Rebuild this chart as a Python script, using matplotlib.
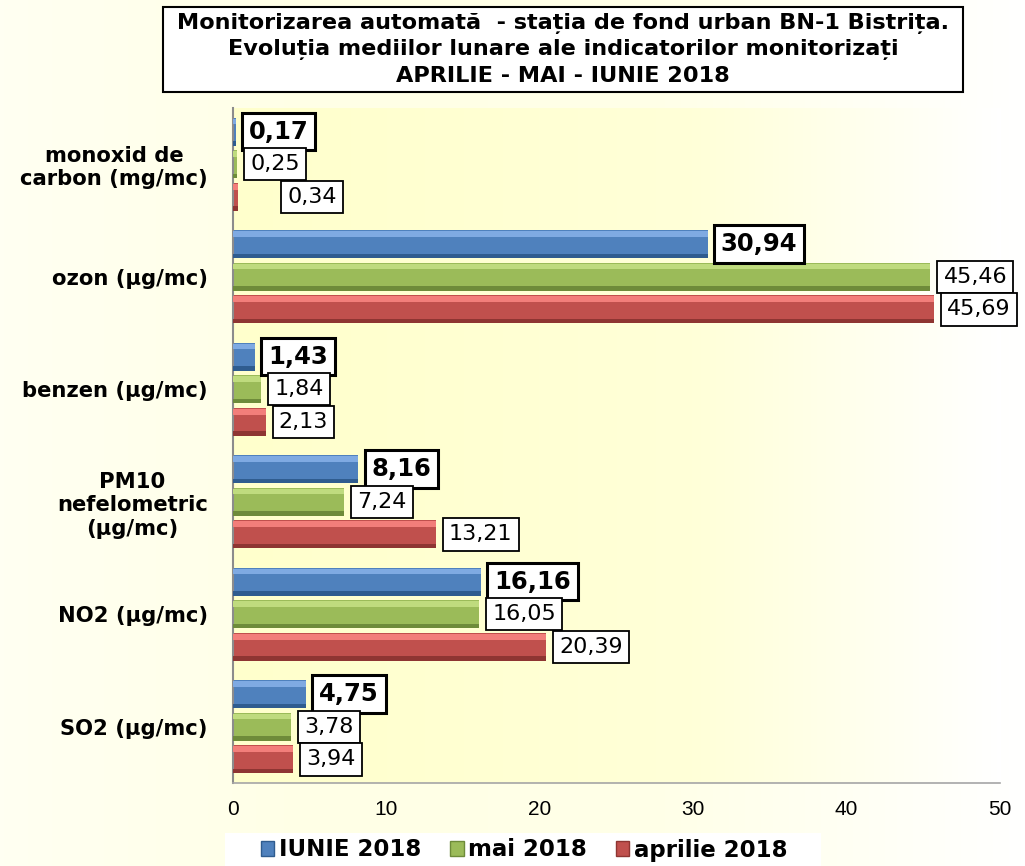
import numpy as np
import matplotlib.pyplot as plt
from matplotlib.patches import Patch, Rectangle
from matplotlib.colors import LinearSegmentedColormap

# Data, categories listed top to bottom
categories = ['monoxid de\ncarbon (mg/mc)', 'ozon (µg/mc)', 'benzen (µg/mc)',
              'PM10\nnefelometric\n(µg/mc)', 'NO2 (µg/mc)', 'SO2 (µg/mc)']
iunie = [0.17, 30.94, 1.43, 8.16, 16.16, 4.75]
mai = [0.25, 45.46, 1.84, 7.24, 16.05, 3.78]
aprilie = [0.34, 45.69, 2.13, 13.21, 20.39, 3.94]
series_names = ['IUNIE 2018', 'mai 2018', 'aprilie 2018']
xticks = [0, 10, 20, 30, 40, 50]
title_lines = ['Monitorizarea automată  - stația de fond urban BN-1 Bistrița.',
               'Evoluția mediilor lunare ale indicatorilor monitorizați',
               'APRILIE - MAI - IUNIE 2018']

# colours: (main, light top, dark bottom)
COLORS = {
    'IUNIE 2018': ('#4F81BD', '#7FAAE2', '#2F5C8F'),
    'mai 2018': ('#9BBB59', '#BFDB7E', '#6E8B3A'),
    'aprilie 2018': ('#C0504D', '#F27E7A', '#8E3532'),
}

NARROW = ['Liberation Sans Narrow', 'Liberation Sans', 'DejaVu Sans']

fig = plt.figure(figsize=(10.25, 8.66), dpi=100)

# background gradient for the whole chart area
bg = fig.add_axes([0, 0, 1, 1], zorder=-10)
bg_cmap = LinearSegmentedColormap.from_list(
    'bg', [(0.0, '#FFFFF2'), (0.3, '#FFFFE6'), (0.65, '#FFFFE8'), (1.0, '#FFFFFF')])
bg.imshow(np.linspace(0, 1, 256).reshape(1, -1), cmap=bg_cmap, aspect='auto',
          extent=[0, 1, 0, 1])
bg.axis('off')

ax = fig.add_axes([0.2273, 0.0958, 0.7483, 0.7795])
ax.set_xlim(0, 50)
n = len(categories)
ax.set_ylim(-0.5, n - 0.5)

# plot-area gradient
pa_cmap = LinearSegmentedColormap.from_list(
    'pa', [(0.0, '#FFFFCC'), (0.6, '#FFFFD8'), (1.0, '#FFFFFF')])
ax.imshow(np.linspace(0, 1, 256).reshape(1, -1), cmap=pa_cmap, aspect='auto',
          extent=[0, 50, -0.5, n - 0.5], zorder=0)

ypos = np.arange(n)[::-1]
height = 0.25
offsets = {'IUNIE 2018': 0.29, 'mai 2018': 0.0, 'aprilie 2018': -0.29}
data = {'IUNIE 2018': iunie, 'mai 2018': mai, 'aprilie 2018': aprilie}

# extra nudge for a label that sits further right in the reference
nudge = {(0, 'aprilie 2018'): 26}

for name in series_names:
    main, light, dark = COLORS[name]
    yy = ypos + offsets[name]
    vals = np.array(data[name])
    ax.barh(yy, vals, height=height, color=main, zorder=2)
    # simple bevel: highlight on top, shadow at bottom
    ax.barh(yy + height * 0.36, vals, height=height * 0.2, color=light, zorder=3)
    ax.barh(yy - height * 0.42, vals, height=height * 0.16, color=dark, zorder=3)
    bold = name == 'IUNIE 2018'
    for i, (v, y) in enumerate(zip(vals, yy)):
        label = f'{v:.2f}'.replace('.', ',')
        ax.annotate(label, (v, y), xytext=(9.5 + nudge.get((i, name), 0), 0),
                    textcoords='offset points', ha='left', va='center',
                    fontsize=17.5 if bold else 16,
                    fontweight='bold' if bold else 'normal',
                    family='DejaVu Sans', zorder=5,
                    bbox=dict(boxstyle='square,pad=0.28', fc='white', ec='black',
                              lw=2.2 if bold else 1.3))

ax.set_yticks(ypos)
ax.set_yticklabels(categories, fontsize=15.2, fontweight='bold',
                   family='DejaVu Sans', multialignment='center')
ax.tick_params(axis='y', length=0, pad=18)

ax.set_xticks(xticks)
ax.set_xticklabels([str(t) for t in xticks], fontsize=15, family=NARROW)
ax.tick_params(axis='x', length=0, pad=12)

for s in ['top', 'right']:
    ax.spines[s].set_visible(False)
ax.spines['left'].set_color('#8C8C8C')
ax.spines['left'].set_linewidth(1.5)
ax.spines['bottom'].set_color('#A6A6A6')
ax.spines['bottom'].set_linewidth(1.2)
ax.patch.set_alpha(0)

# title box
fig.patches.append(Rectangle((163 / 1025, 1 - 92 / 866), 800 / 1025, 85 / 866,
                             transform=fig.transFigure, fc='white', ec='black',
                             lw=1.5, zorder=1))
for k, line in enumerate(title_lines):
    fig.text(563 / 1025, 1 - (23.5 + 26.5 * k) / 866, line, ha='center', va='center',
             fontsize=16.1, fontweight='bold', family='DejaVu Sans', zorder=2)

# legend on a white strip
fig.patches.append(Rectangle((225 / 1025, 0), 596 / 1025, 33 / 866,
                             transform=fig.transFigure, fc='white', ec='none', zorder=1))
handles = [Patch(facecolor=COLORS[nm][0], edgecolor=COLORS[nm][2]) for nm in series_names]
leg = fig.legend(handles, series_names, loc='center', bbox_to_anchor=(524 / 1025, 1 - 850 / 866),
                 ncol=3, frameon=False, borderaxespad=0,
                 handlelength=0.6, handleheight=0.6, handletextpad=0.2,
                 columnspacing=1.25, borderpad=0.2,
                 prop={'family': 'DejaVu Sans', 'weight': 'bold', 'size': 16.5})

fig.savefig('out.png', dpi=100)
